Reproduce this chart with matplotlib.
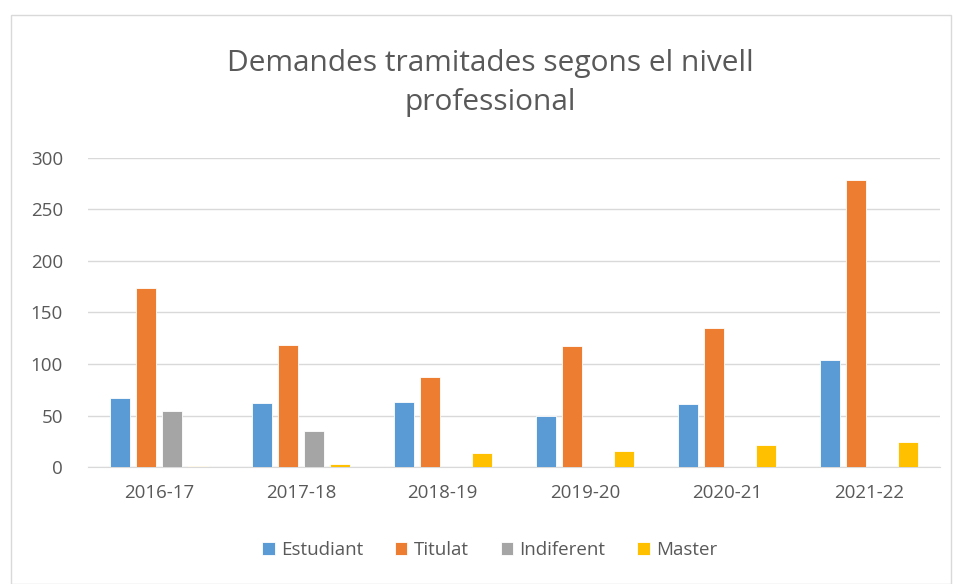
import matplotlib
matplotlib.use("Agg")
import matplotlib.pyplot as plt
import numpy as np
from matplotlib.patches import Rectangle

years = ["2016-17", "2017-18", "2018-19", "2019-20", "2020-21", "2021-22"]
estudiant = [67, 62, 63, 50, 61, 104]
titulat = [174, 118, 87, 117, 135, 279]
indiferent = [54, 35, 0, 0, 0, 0]
master = [1, 3, 14, 16, 21, 24]

series = [("Estudiant", estudiant, "#5b9bd5"),
          ("Titulat", titulat, "#ed7d31"),
          ("Indiferent", indiferent, "#a5a5a5"),
          ("Master", master, "#ffc000")]

plt.rcParams["font.family"] = ["Open Sans", "DejaVu Sans"]
txt = "#595959"

fig = plt.figure(figsize=(9.55, 5.84), dpi=100)
ax = fig.add_axes([0.092, 0.2003, 0.892, 0.5292])

# chart border
fig.patches.append(Rectangle((0.011, 0.0), 0.985, 0.974, transform=fig.transFigure,
                             fill=False, edgecolor="#d9d9d9", linewidth=1))

x = np.arange(len(years))
w = 0.14
pitch = 0.183
for i, (name, vals, col) in enumerate(series):
    ax.bar(x + (i - 1.5) * pitch, vals, width=w, color=col, label=name,
           edgecolor="white", linewidth=0.6, zorder=3)

ax.set_xlim(-0.5, len(years) - 0.5)
ax.set_ylim(0, 300)
ax.set_yticks(range(0, 301, 50))
ax.set_xticks(x)
ax.set_xticklabels(years)
ax.tick_params(length=0, labelsize=13.5, colors=txt)
ax.tick_params(axis="x", pad=12)
ax.tick_params(axis="y", pad=18)
ax.grid(axis="y", color="#d9d9d9", linewidth=1, zorder=0)
for s in ["top", "right", "left"]:
    ax.spines[s].set_visible(False)
ax.spines["bottom"].set_color("#d9d9d9")

fig.text(0.513, 0.858, "Demandes tramitades segons el nivell\nprofessional",
         ha="center", va="center", fontsize=21.5, color=txt, linespacing=1.42)

fig.legend(loc="center", bbox_to_anchor=(0.513, 0.058), ncol=4, frameon=False,
           fontsize=13.5, labelcolor=txt, handlelength=0.65, handleheight=0.65,
           handletextpad=0.35, columnspacing=1.7)

fig.savefig("out.png", dpi=100)
plt.close(fig)
